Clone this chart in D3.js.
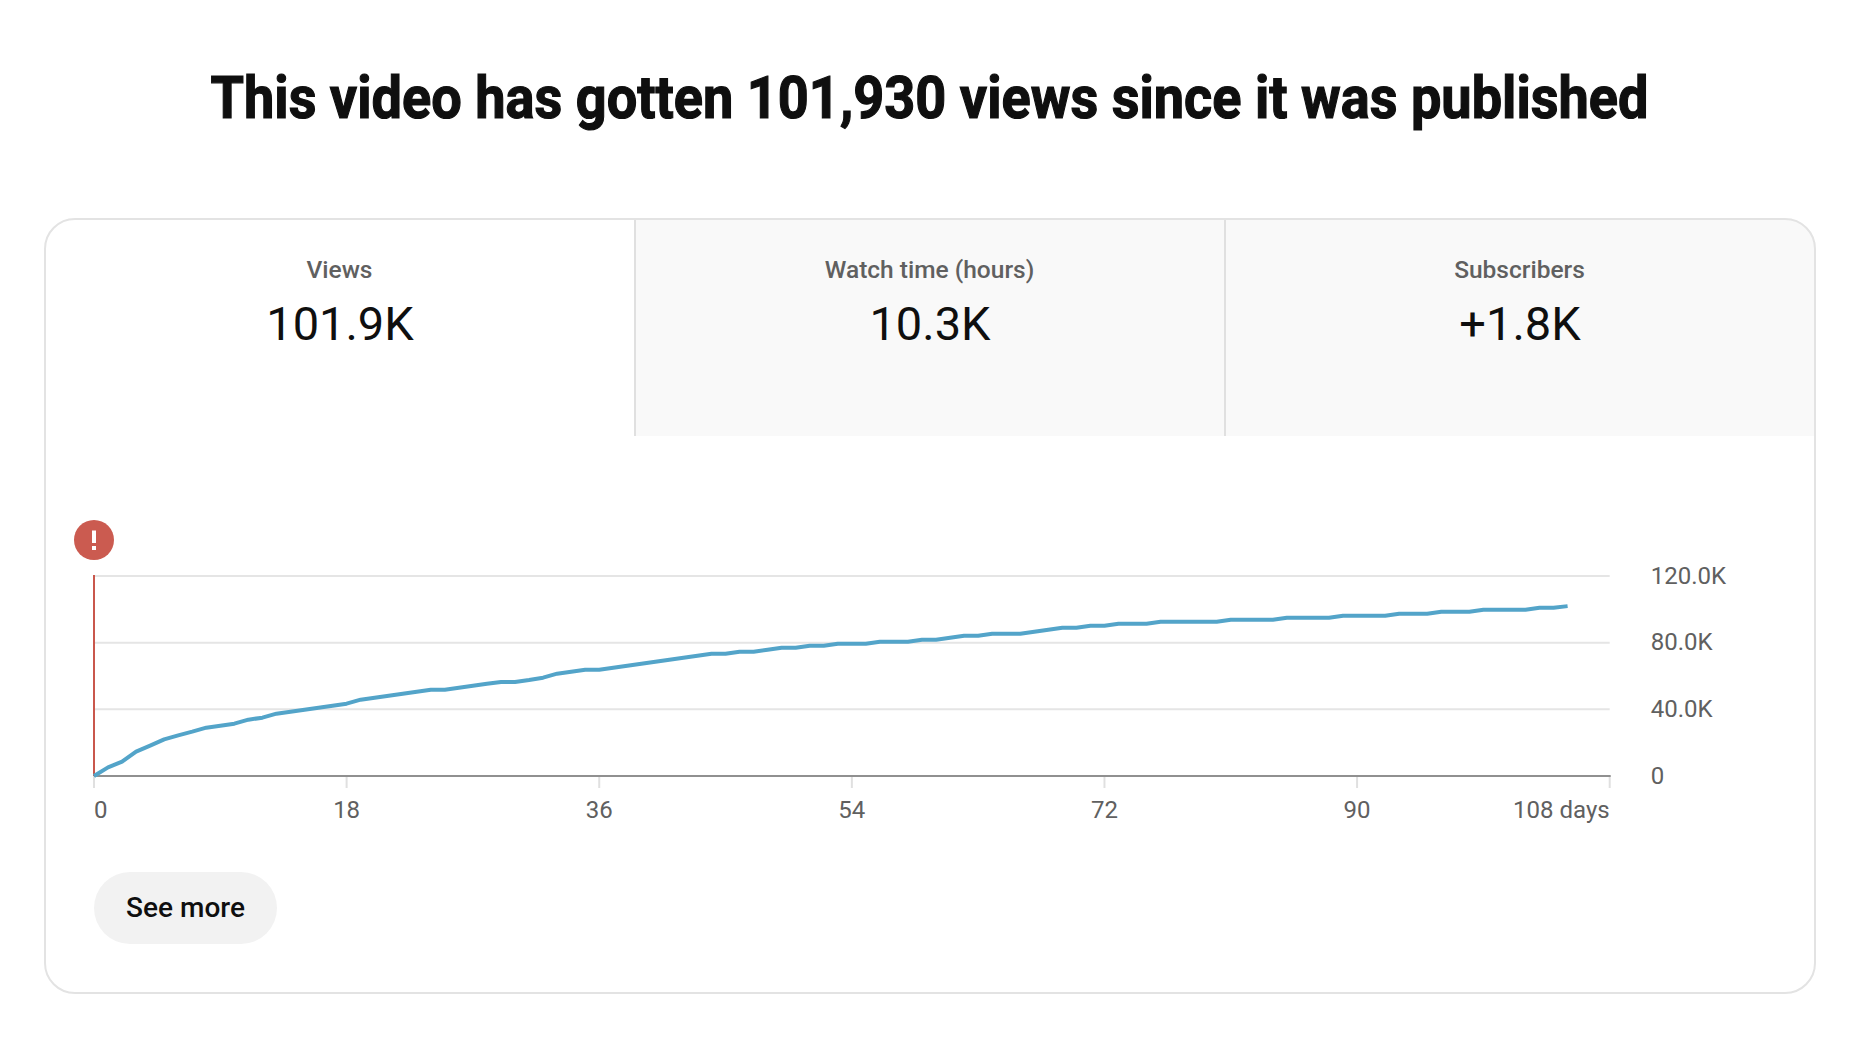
<!DOCTYPE html>
<html lang="en">
<head>
<meta charset="UTF-8">
<title>Video views since published</title>
<script src="https://d3js.org/d3.v7.min.js"></script>
<style>
    html, body { margin: 0; padding: 0; background: #fff; }
    svg { display: block; }
    svg * { font-family: Roboto, sans-serif; }
    .domain { display: none; }
</style>
</head>
<body>
<svg id="chart" width="1864" height="1040"></svg>
<script>
const titleText = "This video has gotten 101,930 views since it was published";
const tabLabels = ["Views", "Watch time (hours)", "Subscribers"];
const tabValues = ["101.9K", "10.3K", "+1.8K"];
const buttonText = "See more";

// cumulative views, one value per day since publishing
const views = [
    0, 5200, 8600, 14600, 18200, 22000, 24400, 26600, 29000, 30200,
    31400, 33800, 35000, 37400, 38600, 39800, 41000, 42200, 43400, 45800,
    47000, 48200, 49400, 50600, 51800, 51800, 53000, 54200, 55400, 56400,
    56400, 57600, 59000, 61400, 62600, 63800, 63800, 65000, 66200, 67400,
    68600, 69800, 71000, 72200, 73400, 73400, 74600, 74600, 75800, 77000,
    77000, 78200, 78200, 79400, 79400, 79400, 80600, 80600, 80600, 81800,
    81800, 83000, 84200, 84200, 85400, 85400, 85400, 86600, 87800, 89000,
    89000, 90200, 90200, 91400, 91400, 91400, 92600, 92600, 92600, 92600,
    92600, 93800, 93800, 93800, 93800, 95000, 95000, 95000, 95000, 96200,
    96200, 96200, 96200, 97400, 97400, 97400, 98600, 98600, 98600, 99800,
    99800, 99800, 99800, 101000, 101000, 101930
];
const dayTicks = [0, 18, 36, 54, 72, 90, 108];
const viewTicks = [0, 40000, 80000, 120000];
const viewTickLabels = ["0", "40.0K", "80.0K", "120.0K"];

const svg = d3.select("#chart");

const card = { x: 45, y: 219, w: 1770, h: 774, r: 30 };
const tabW = card.w / 3;
const tabH = 217;

const x = d3.scaleLinear().domain([0, 108]).range([94, 1609.7]);
const y = d3.scaleLinear().domain([0, 120000]).range([776, 576]);

// the title is set a bit condensed in the original, so squeeze the glyphs
svg.append("text")
    .attr("x", 210.5)
    .attr("y", 118)
    .attr("font-size", 60)
    .attr("font-weight", 700)
    .attr("stroke", "#0f0f0f")
    .attr("stroke-width", 1.2)
    .attr("textLength", 1438)
    .attr("lengthAdjust", "spacingAndGlyphs")
    .attr("fill", "#0f0f0f")
    .text(titleText);

// card with the inactive tabs clipped to its rounded corners
svg.append("clipPath").attr("id", "cardClip")
    .append("rect")
    .attr("x", card.x).attr("y", card.y)
    .attr("width", card.w).attr("height", card.h)
    .attr("rx", card.r);

const tabsG = svg.append("g").attr("clip-path", "url(#cardClip)");
tabsG.selectAll("rect.tab").data(tabLabels.slice(1)).join("rect")
    .attr("class", "tab")
    .attr("x", (d, i) => card.x + tabW * (i + 1))
    .attr("y", card.y)
    .attr("width", tabW)
    .attr("height", tabH)
    .attr("fill", "#f9f9f9");

tabsG.selectAll("line.divider").data(tabLabels.slice(1)).join("line")
    .attr("class", "divider")
    .attr("x1", (d, i) => card.x + tabW * (i + 1))
    .attr("x2", (d, i) => card.x + tabW * (i + 1))
    .attr("y1", card.y)
    .attr("y2", card.y + tabH)
    .attr("stroke", "#e0e0e0")
    .attr("stroke-width", 2);

svg.append("rect")
    .attr("x", card.x).attr("y", card.y)
    .attr("width", card.w).attr("height", card.h)
    .attr("rx", card.r)
    .attr("fill", "none")
    .attr("stroke", "#e3e3e3")
    .attr("stroke-width", 2);

svg.selectAll("text.tabLabel").data(tabLabels).join("text")
    .attr("class", "tabLabel")
    .attr("x", (d, i) => card.x + tabW * (i + 0.5) - 0.5)
    .attr("y", 278)
    .attr("text-anchor", "middle")
    .attr("font-size", 24.5)
    .attr("font-weight", 500)
    .attr("fill", "#606060")
    .text(d => d);

svg.selectAll("text.tabValue").data(tabValues).join("text")
    .attr("class", "tabValue")
    .attr("x", (d, i) => card.x + tabW * (i + 0.5))
    .attr("y", 340)
    .attr("text-anchor", "middle")
    .attr("font-size", 47)
    .attr("fill", "#0f0f0f")
    .text(d => d);

// gridlines + y labels
const yAxis = svg.append("g")
    .attr("transform", `translate(${x(0)},0)`)
    .call(d3.axisRight(y)
        .offset(0)
        .tickValues(viewTicks)
        .tickSize(x(108) - x(0))
        .tickPadding(41)
        .tickFormat((d, i) => viewTickLabels[i]));
yAxis.selectAll("line").attr("stroke", "#e5e5e5").attr("stroke-width", 2);
yAxis.selectAll("text")
    .attr("font-size", 24)
    .attr("fill", "#606060");

// x axis
const xAxis = svg.append("g")
    .attr("transform", `translate(0,${y(0)})`)
    .call(d3.axisBottom(x)
        .offset(0)
        .tickValues(dayTicks)
        .tickSize(12)
        .tickPadding(13)
        .tickFormat(d => d === 108 ? d + " days" : d));
xAxis.selectAll("line").attr("stroke", "#e0e0e0").attr("stroke-width", 2);
xAxis.selectAll("text")
    .attr("font-size", 24)
    .attr("fill", "#606060")
    .attr("text-anchor", d => d === 0 ? "start" : d === 108 ? "end" : "middle");

svg.append("line")
    .attr("x1", x(0)).attr("x2", x(108) + 1)
    .attr("y1", y(0)).attr("y2", y(0))
    .attr("stroke", "#909090")
    .attr("stroke-width", 2);

// red marker at publish date
svg.append("line")
    .attr("x1", x(0)).attr("x2", x(0))
    .attr("y1", y(120000) - 1).attr("y2", y(0))
    .attr("stroke", "#c9574c")
    .attr("stroke-width", 2);

svg.append("circle")
    .attr("cx", x(0)).attr("cy", 540).attr("r", 20)
    .attr("fill", "#cb5b50");
svg.append("rect")
    .attr("x", x(0) - 2).attr("y", 530.5)
    .attr("width", 4).attr("height", 12.5)
    .attr("fill", "#fff");
svg.append("rect")
    .attr("x", x(0) - 2).attr("y", 546)
    .attr("width", 4).attr("height", 4)
    .attr("fill", "#fff");

const line = d3.line()
    .x((d, i) => x(i))
    .y(d => y(d));

svg.append("path")
    .datum(views)
    .attr("d", line)
    .attr("fill", "none")
    .attr("stroke", "#53a4c9")
    .attr("stroke-width", 4)
    .attr("stroke-linejoin", "round");

// button
svg.append("rect")
    .attr("x", 94).attr("y", 872)
    .attr("width", 183).attr("height", 72)
    .attr("rx", 36)
    .attr("fill", "#f2f2f2");
svg.append("text")
    .attr("x", 185.5)
    .attr("y", 917)
    .attr("text-anchor", "middle")
    .attr("font-size", 28)
    .attr("font-weight", 500)
    .attr("fill", "#0f0f0f")
    .text(buttonText);
</script>
</body>
</html>
